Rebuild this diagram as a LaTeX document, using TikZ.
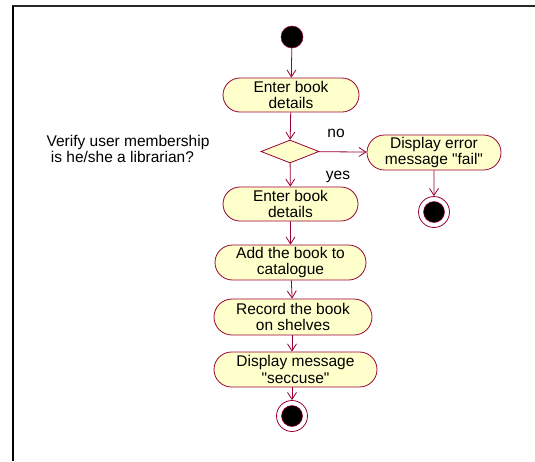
\documentclass[tikz,border=0pt]{standalone}
\usepackage{fontspec}
\setmainfont{Liberation Sans}[Ligatures=TeXOff]
\usetikzlibrary{arrows.meta,shapes.misc,shapes.geometric}
\definecolor{umlline}{HTML}{990033}
\definecolor{umlfill}{HTML}{FFFFCC}
\newcommand\umlfont{\fontsize{15.5}{16.5}\selectfont}
\tikzset{
  activity/.style={rounded rectangle, draw=umlline, fill=umlfill, line width=0.8pt,
    minimum height=34pt, inner sep=1pt, align=center, font=\umlfont},
  decision/.style={diamond, draw=umlline, fill=umlfill, line width=0.8pt,
    minimum width=58pt, minimum height=23pt, inner sep=0pt, aspect=2.5},
  flow/.style={draw=umlline, line width=0.8pt, -{Straight Barb[length=7pt,width=9pt,line width=0.8pt]}},
  startdot/.style={circle, fill=black, draw=umlline, line width=0.5pt, minimum size=22pt, inner sep=0pt},
  enddot/.style={circle, draw=umlline, line width=0.8pt, fill=white, minimum size=31pt, inner sep=0pt,
    path picture={\fill[black] (path picture bounding box.center) circle (10.5pt);
                  \draw[umlline, line width=0.5pt] (path picture bounding box.center) circle (10.5pt);}},
  lbl/.style={font=\umlfont, inner sep=0pt}
}
\begin{document}
\begin{tikzpicture}[x=1pt,y=-1pt]
  \useasboundingbox (0,0) rectangle (535,461);
  % frame
  \draw[black!85, line width=1.8pt] (12,6) -- (535,6);
  \draw[black, line width=1.8pt] (13,6) -- (13,461);

  % nodes
  \node[startdot] (start) at (292,37) {};
  \node[activity, minimum width=138pt] (enter1) at (291,95) {Enter book\\details};
  \node[decision] (check) at (290,151.5) {};
  \node[activity, minimum width=136pt, minimum height=35pt] (fail) at (434,152.5) {Display error\\message "fail"};
  \node[enddot] (endfail) at (434,212) {};
  \node[activity, minimum width=137pt] (enter2) at (290.5,204) {Enter book\\details};
  \node[activity, minimum width=153pt, minimum height=35pt] (add) at (290.5,262.5) {Add the book to\\catalogue};
  \node[activity, minimum width=160pt, minimum height=36pt] (record) at (293,317) {Record the book\\on shelves};
  \node[activity, minimum width=165pt, minimum height=35pt] (show) at (295.5,369.5) {Display message\\"seccuse"};
  \node[enddot] (endok) at (292,416) {};

  \node[lbl, align=left] (note) at (128,149) {Verify user membership\\\ is he/she a librarian?};
  \node[lbl] (nolbl) at (336,133) {no};
  \node[lbl] (yeslbl) at (338,177) {yes};

  % control flow
  \draw[flow] (start) -- (enter1);
  \draw[flow] (enter1) -- (check);
  \draw[flow] (check) -- (fail);
  \draw[flow] (fail) -- (endfail);
  \draw[flow] (check) -- (enter2);
  \draw[flow] (enter2) -- (add);
  \draw[flow] (add) -- (record);
  \draw[flow] (record.south -| endok) -- (show.north -| endok);
  \draw[flow] (show.south -| endok) -- (endok);
\end{tikzpicture}
\end{document}
